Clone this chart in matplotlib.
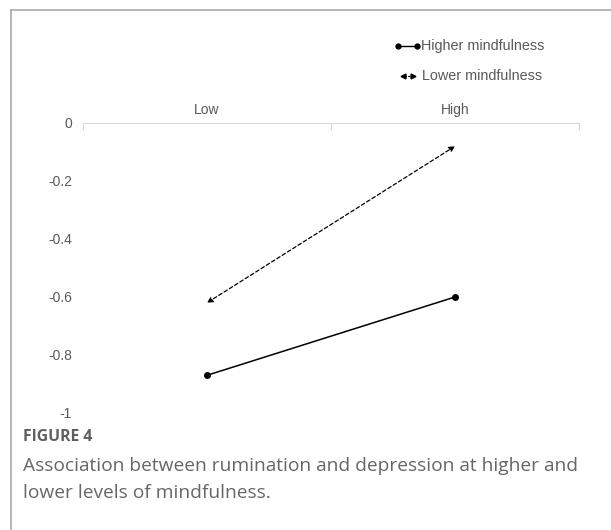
import matplotlib.pyplot as plt
from matplotlib.lines import Line2D

# data
categories = ['Low', 'High']
higher = [-0.87, -0.60]
lower = [-0.62, -0.08]
yticks = [0, -0.2, -0.4, -0.6, -0.8, -1]
yticklabels = ['0', '-0.2', '-0.4', '-0.6', '-0.8', '-1']

W, H = 611, 530
fig = plt.figure(figsize=(W / 100, H / 100), dpi=100)
fig.patch.set_facecolor('white')

# frame lines of the figure box (top and left)
fig.add_artist(Line2D([11 / W, 1], [1 - 10 / H, 1 - 10 / H], color='#aaaaaa', lw=1.2))
fig.add_artist(Line2D([11 / W, 11 / W], [0, 1 - 10 / H], color='#aaaaaa', lw=1.2))

ax = fig.add_axes([83 / W, 1 - 413 / H, (579 - 83) / W, (413 - 123) / H])
x = list(range(len(categories)))
ax.set_xlim(-0.5, len(categories) - 0.5)
ax.set_ylim(-1, 0)

for s in ['bottom', 'left', 'right']:
    ax.spines[s].set_visible(False)
ax.spines['top'].set_color('#d9d9d9')
ax.xaxis.tick_top()
ax.set_xticks([-0.5, 0.5, 1.5])
ax.set_xticklabels([])
ax.set_xticks(x, minor=True)
ax.set_xticklabels(categories, minor=True)
ax.tick_params(axis='x', which='major', length=5, color='#d9d9d9', direction='in')
ax.tick_params(axis='x', which='minor', length=0, pad=4, labelsize=10, labelcolor='#595959')
for lab in ax.get_xticklabels(minor=True):
    lab.set_fontfamily('Liberation Sans')

ax.set_yticks(yticks)
ax.set_yticklabels(yticklabels, fontfamily='Liberation Sans')
ax.tick_params(axis='y', length=0, pad=8, labelsize=10, labelcolor='#595959')

# higher mindfulness: solid with dots
ax.plot(x, higher, color='black', lw=1.1, marker='o', ms=4)

# lower mindfulness: dashed with arrowheads on both ends
ax.annotate('', xy=(x[1], lower[1]), xytext=(x[0], lower[0]),
            arrowprops=dict(arrowstyle='<|-|>', color='black', lw=0.9,
                            linestyle=(0, (3, 2)), mutation_scale=8,
                            shrinkA=0, shrinkB=0))

# legend drawn by hand
fig.add_artist(Line2D([398 / W, 417 / W], [1 - 46 / H, 1 - 46 / H], color='black', lw=1,
                      marker='o', ms=3.5))
fig.text(421 / W, 1 - 46 / H, 'Higher mindfulness', fontsize=10.4, color='#595959',
         va='center', ha='left', family='Liberation Sans')
fig.add_artist(Line2D([401 / W, 415 / W], [1 - 76 / H, 1 - 76 / H], color='black', lw=0.8,
                      linestyle=(0, (2, 1))))
fig.add_artist(Line2D([403 / W], [1 - 76 / H], color='black', marker='<', ms=3.5, lw=0))
fig.add_artist(Line2D([413 / W], [1 - 76 / H], color='black', marker='>', ms=3.5, lw=0))
fig.text(422 / W, 1 - 76 / H, 'Lower mindfulness', fontsize=10.4, color='#595959',
         va='center', ha='left', family='Liberation Sans')

# caption
fig.text(23 / W, 1 - 437 / H, 'FIGURE 4', fontsize=11.3, color='#5f5f5f',
         fontweight='bold', family='Open Sans', va='center')
fig.text(23 / W, 1 - 466 / H, 'Association between rumination and depression at higher and',
         fontsize=13.8, color='#666666', family='Open Sans', va='center')
fig.text(23 / W, 1 - 493 / H, 'lower levels of mindfulness.',
         fontsize=13.8, color='#666666', family='Open Sans', va='center')

fig.savefig('out.png', dpi=100)
